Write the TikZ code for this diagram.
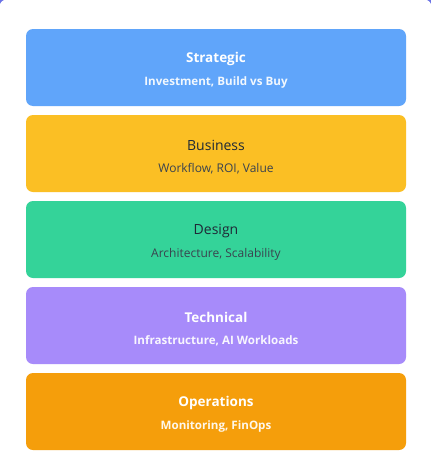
\documentclass[tikz,border=0pt]{standalone}
\usepackage{fontspec}
\setmainfont{Open Sans}
\usepackage{xcolor}
\usetikzlibrary{positioning}
\definecolor{cardbg}{HTML}{6B73E6}
\definecolor{strategicblue}{HTML}{60A5FA}
\definecolor{businessyellow}{HTML}{FBBF24}
\definecolor{designgreen}{HTML}{34D399}
\definecolor{technicalpurple}{HTML}{A78BFA}
\definecolor{operationsorange}{HTML}{F59E0B}
\definecolor{darktext}{HTML}{1F2937}
\tikzset{
  layer/.style={rounded corners=7pt, minimum width=380pt, minimum height=77pt, inner sep=0pt},
  title/.style={font=\fontsize{13.5}{15}\selectfont\bfseries, inner sep=0pt},
  subtitle/.style={font=\fontsize{11.6}{13}\selectfont\bfseries, inner sep=0pt},
  darktitle/.style={font=\fontsize{14}{15}\selectfont, inner sep=0pt, text=darktext},
  darksubtitle/.style={font=\fontsize{12}{13}\selectfont, inner sep=0pt, text=darktext!88!white},
}

\begin{document}
\begin{tikzpicture}[x=1pt,y=-1pt]
      \useasboundingbox (0,0) rectangle (431,474);
      \fill[cardbg] (0,0) rectangle (431,474);
      \fill[white, rounded corners=9pt] (-1,-1) rectangle (432,490);
      % layers
      \node[layer, fill=strategicblue] (strategic) at (216,67.5) {};
      \node[layer, fill=businessyellow] (business) at (216,153.5) {};
      \node[layer, fill=designgreen] (design) at (216,239.5) {};
      \node[layer, fill=technicalpurple] (technical) at (216,325.5) {};
      \node[layer, fill=operationsorange] (operations) at (216,411.5) {};
      % labels
      \node[title, white] (strategic-t) at ([yshift=8.5pt]strategic.center) {Strategic};
      \node[subtitle, white!92!strategicblue] (strategic-s) at ([yshift=-15pt]strategic.center) {Investment, Build vs Buy};
      \node[darktitle] (business-t) at ([yshift=8.5pt]business.center) {Business};
      \node[darksubtitle] (business-s) at ([yshift=-15pt]business.center) {Workflow, ROI, Value};
      \node[darktitle] (design-t) at ([yshift=8.5pt]design.center) {Design};
      \node[darksubtitle] (design-s) at ([yshift=-15pt]design.center) {Architecture, Scalability};
      \node[title, white] (technical-t) at ([yshift=8.5pt]technical.center) {Technical};
      \node[subtitle, white!92!technicalpurple] (technical-s) at ([yshift=-15pt]technical.center) {Infrastructure, AI Workloads};
      \node[title, white] (operations-t) at ([yshift=8.5pt]operations.center) {Operations};
      \node[subtitle, white!92!operationsorange] (operations-s) at ([yshift=-15pt]operations.center) {Monitoring, FinOps};
    \end{tikzpicture}
\end{document}
